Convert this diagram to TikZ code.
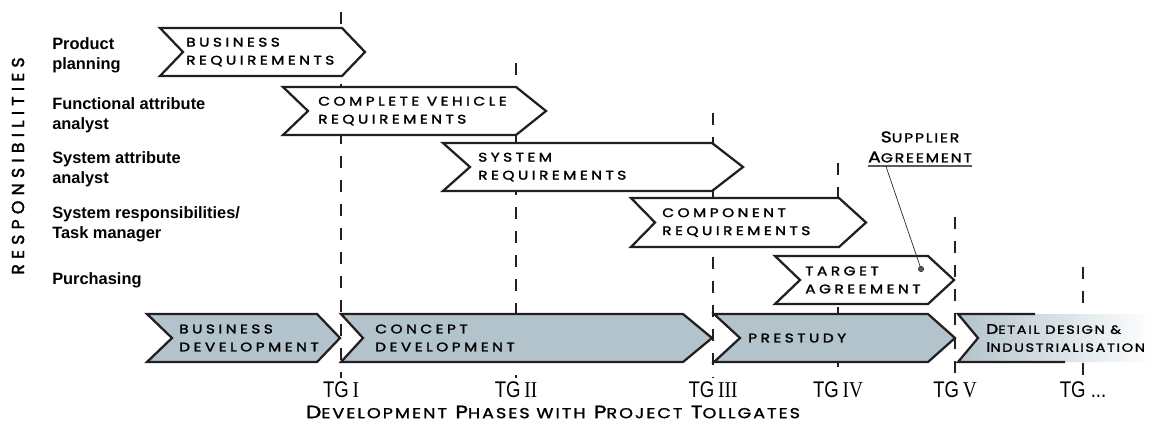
\documentclass[tikz,border=0pt]{standalone}
\usepackage{fontspec}
\setmainfont{Liberation Sans}
\newfontfamily\boxfont[FakeStretch=1.22,LetterSpace=28,FakeBold=2]{Poppins}
\newfontfamily\capfont[FakeStretch=1.22,LetterSpace=14,FakeBold=1.6]{Poppins}
\newfontfamily\respfont[LetterSpace=30,FakeBold=1.8]{Poppins}
\newfontfamily\tgfont[FakeStretch=0.82]{Liberation Sans}
\newfontfamily\numfont[FakeStretch=0.85]{Liberation Serif}
\newcommand{\smc}[2]{{\fontsize{#1}{#1}\selectfont #2}}

\definecolor{edge}{HTML}{231F20}
\definecolor{phase}{HTML}{B3C3CB}
\definecolor{lead}{HTML}{5A5A5A}

\begin{document}
\begin{tikzpicture}[
	x=0.75pt, y=-0.75pt,
	reqbox/.style={draw=edge, fill=white, line width=1.7pt, line join=miter},
	phasebox/.style={reqbox, fill=phase},
	boxtext/.style={anchor=west, align=left, inner sep=0pt,
		font=\boxfont\fontsize{9.4}{13.5}\selectfont},
	role/.style={anchor=west, align=left, inner sep=0pt,
		font=\bfseries\fontsize{12.3}{15}\selectfont},
	tollgate/.style={draw=edge, line width=1.6pt, dash pattern=on 9pt off 9pt},
	tglabel/.style={inner sep=0pt, font=\tgfont\fontsize{17}{18}\selectfont}
	]
	\useasboundingbox (0,0) rectangle (1155,425);

	% tollgates
	\foreach \x/\top/\n/\lab in {341/12/1/{TG\,\numfont I}, 516/63/2/{TG\,\numfont II},
		713/113/3/{TG\,\numfont III}, 838/163/4/{TG\,\numfont IV},
		955/217/5/{TG\,\numfont V}, 1083/267/6/{TG ...}}
	{
		\draw[tollgate] (\x,\top) -- (\x,378);
		\node[tglabel] (tg\n) at (\x,390) {\lab};
	}

	% responsibilities
	\node[rotate=90, inner sep=0pt, font=\respfont\fontsize{13}{13}\selectfont] (resp) at (18,166) {RESPONSIBILITIES};
	\node[role] (prodplan) at (52,55) {Product\\planning};
	\node[role] (funcatt) at (52,115) {Functional attribute\\analyst};
	\node[role] (sysatt) at (52,169) {System attribute\\analyst};
	\node[role] (sysresp) at (52,224.5) {System responsibilities/\\Task manager};
	\node[role] (purch) at (52,280) {Purchasing};

	% requirement arrows
	\draw[reqbox] (160,28) -- (342,28) -- (365,52) -- (342,76) -- (160,76) -- (183,52) -- cycle;
	\node[boxtext] (busreq) at (186,52) {BUSINESS\\REQUIREMENTS};

	\draw[reqbox] (283,87) -- (516,87) -- (546,111) -- (516,135) -- (283,135) -- (308,111) -- cycle;
	\node[boxtext] (vehreq) at (318,111) {COMPLETE VEHICLE\\REQUIREMENTS};

	\draw[reqbox] (443,143) -- (712,143) -- (743,167) -- (712,191) -- (443,191) -- (470,167) -- cycle;
	\node[boxtext] (sysreq) at (478,167) {SYSTEM\\REQUIREMENTS};

	\draw[reqbox] (631,198) -- (839,198) -- (866,222.5) -- (839,247) -- (631,247) -- (655,222.5) -- cycle;
	\node[boxtext] (compreq) at (662,222.5) {COMPONENT\\REQUIREMENTS};

	\draw[reqbox] (775,256) -- (928,256) -- (954,280) -- (928,304) -- (775,304) -- (800,280) -- cycle;
	\node[boxtext] (targag) at (805,280) {TARGET\\AGREEMENT};

	% supplier agreement
	\node[anchor=south, align=center, inner xsep=0pt, inner ysep=2.5pt,
		font=\capfont\fontsize{11.6}{15}\selectfont] (supag) at (920,166)
		{S\smc{9.6}{UPPLIER}\\A\smc{9.6}{GREEMENT}};
	\draw[lead, line width=1.2pt] (supag.south west) -- (supag.south east);
	\coordinate (agdot) at (921,269);
	\draw[edge, line width=0.5pt] ([xshift=13.5pt]supag.south west) -- (agdot);
	\filldraw[fill=lead, draw=edge, line width=0.4pt] (agdot) circle (2pt);

	% development phases
	\draw[phasebox] (147,314) -- (317,314) -- (340,338) -- (317,362) -- (147,362) -- (172,338) -- cycle;
	\node[boxtext] (busdev) at (179,338) {BUSINESS\\DEVELOPMENT};

	\draw[phasebox] (341,314) -- (683,314) -- (712,338) -- (683,362) -- (341,362) -- (363,338) -- cycle;
	\node[boxtext] (concdev) at (375,338) {CONCEPT\\DEVELOPMENT};

	\draw[phasebox] (714,314) -- (928,314) -- (955,338) -- (928,362) -- (714,362) -- (740,338) -- cycle;
	\node[boxtext] (prestudy) at (748,338) {PRESTUDY};

	\path[left color=phase, right color=white] (958,314) -- (1155,314) -- (1155,362) -- (958,362) -- (978,338) -- cycle;
	\draw[reqbox, fill=none] (1035,314) -- (958,314) -- (978,338) -- (958,362) -- (1065,362);
	\node[anchor=west, align=left, inner sep=0pt,
		font=\capfont\fontsize{10.4}{13.5}\selectfont] (detdes) at (986,338)
		{D\smc{8.9}{ETAIL DESIGN \&}\\I\smc{8.9}{NDUSTRIALISATION}};

	\node[inner sep=0pt, font=\capfont\fontsize{13.4}{14}\selectfont] (phases) at (553,412)
		{D\smc{10.8}{EVELOPMENT} P\smc{10.8}{HASES WITH} P\smc{10.8}{ROJECT} T\smc{10.8}{OLLGATES}};
\end{tikzpicture}
\end{document}
